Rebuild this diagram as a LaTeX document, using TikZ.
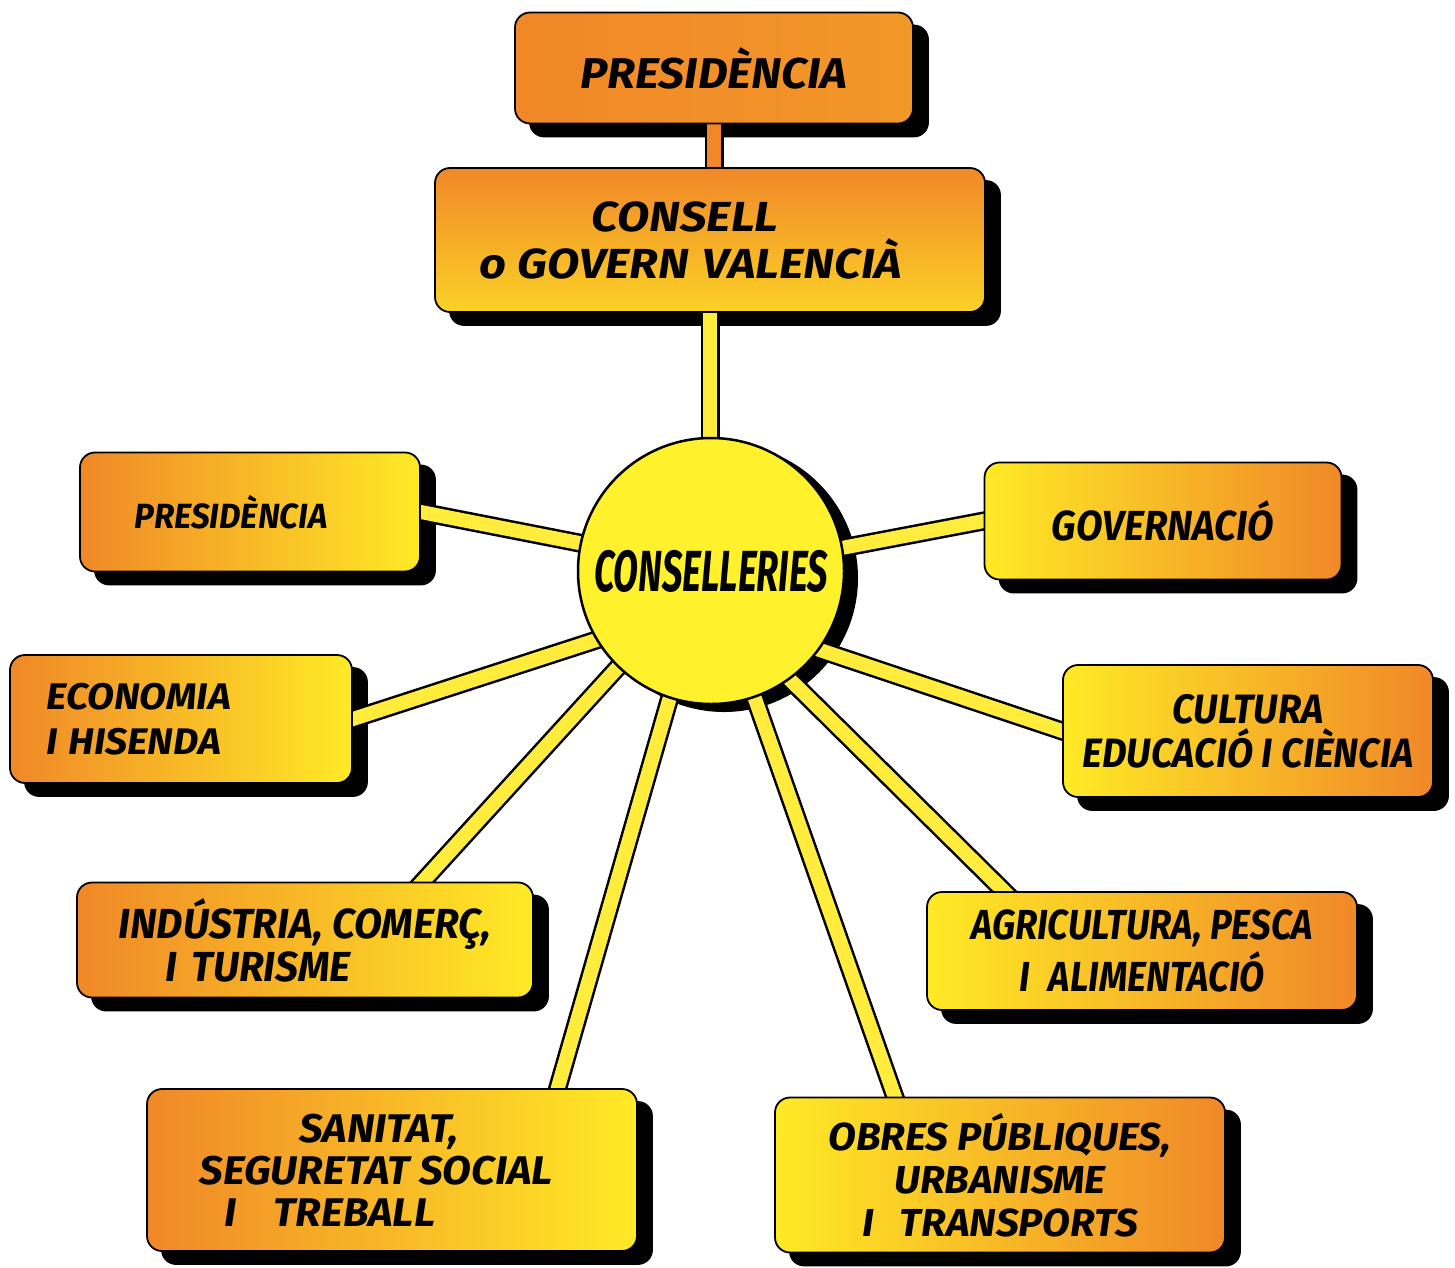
\documentclass[tikz,border=0pt]{standalone}
\usepackage{fontspec}
\newfontfamily\comic{Fira Sans}
\usetikzlibrary{calc}
\definecolor{org}{RGB}{240,136,40}
\definecolor{ylw}{RGB}{255,234,38}
\definecolor{lemon}{RGB}{255,242,45}
\definecolor{barY}{RGB}{255,236,60}
\pgfdeclarelayer{shadowlayer}
\pgfdeclarelayer{connlayer}
\pgfsetlayers{shadowlayer,connlayer,main}
\newcommand{\ctxt}[2]{\scalebox{#1}[1]{\vbox{\halign{\hfil##\hfil\cr#2\crcr}}}}
\newcommand{\ltxt}[2]{\scalebox{#1}[1]{\vbox{\halign{##\hfil\cr#2\crcr}}}}
\begin{document}
\begin{tikzpicture}[x=1pt,y=-1pt,
  box/.style={draw=black, line width=1.8pt, rounded corners=15pt, inner sep=0pt, text=black},
  fsz/.style 2 args={font=\comic\bfseries\itshape\fontsize{#1}{#2}\selectfont},
  oy/.style={left color=org, right color=ylw},
  yo/.style={left color=ylw, right color=org},
  shadowbox/.style={fill=black, rounded corners=15pt},
  conn/.style={draw=black, line width=2.5pt, double=barY, double distance=14pt,
               shorten <=-10pt, shorten >=-14pt},
]
\useasboundingbox (0,0) rectangle (1455,1267);

% boxes
\node[box, fsz={43}{48}, left color=org, right color=org!85!ylw, minimum width=398pt, minimum height=111pt]
  (pres) at (714,68) {\ctxt{1.07}{PRESIDÈNCIA}};
\node[box, fsz={42}{47}, top color=org, bottom color=ylw!75!org, minimum width=550pt, minimum height=144pt]
  (cons) at (710,240) {\raisebox{-6pt}{\ltxt{1.12}{\hspace*{100pt}CONSELL\cr o GOVERN\hspace{12pt}VALENCIÀ\hspace*{34pt}}}};
\node[box, fsz={35}{40}, oy, minimum width=340pt, minimum height=119pt]
  (presL) at (250,512) {\ltxt{0.95}{PRESIDÈNCIA\hspace*{40pt}}};
\node[box, fsz={42}{47}, yo, minimum width=357pt, minimum height=117pt]
  (gov) at (1163,521) {\ctxt{0.92}{GOVERNACIÓ}};
\node[box, fsz={37}{45}, oy, minimum width=342pt, minimum height=128pt]
  (eco) at (181,719) {\ltxt{1.06}{ECONOMIA\hspace*{80pt}\cr I\hspace{10pt}HISENDA}};
\node[box, fsz={41}{44}, yo, minimum width=370pt, minimum height=132pt]
  (cul) at (1248,731) {\ctxt{0.93}{CULTURA\cr EDUCACIÓ I CIÈNCIA}};
\node[box, fsz={42}{43}, oy, minimum width=456pt, minimum height=115pt]
  (ind) at (305,940) {\ltxt{0.97}{INDÚSTRIA, COMERÇ,\cr\hspace*{48pt}I\hspace{15pt}TURISME}};
\node[box, fsz={42}{52}, yo, minimum width=430pt, minimum height=118pt]
  (agr) at (1142,951) {\ctxt{0.87}{AGRICULTURA, PESCA\cr I\hspace{22pt}ALIMENTACIÓ}};
\node[box, fsz={40}{42}, oy, minimum width=490pt, minimum height=162pt]
  (san) at (392,1170) {\ltxt{1.05}{\hspace*{95pt}SANITAT,\cr SEGURETAT SOCIAL\hspace*{30pt}\cr\hspace*{24pt}I\hspace{35pt}TREBALL}};
\node[box, fsz={39}{43}, yo, minimum width=450pt, minimum height=155pt]
  (obr) at (1000,1175) {\ctxt{1.04}{OBRES PÚBLIQUES,\cr URBANISME\cr I\hspace{25pt}TRANSPORTS}};

% central circle
\node[circle, draw=black, line width=2.5pt, fill=lemon, minimum size=266pt, inner sep=0pt,
      fsz={58}{60}]
  (cc) at (711,571) {\scalebox{0.625}[1]{CONSELLERIES}};

% shadows
\begin{pgfonlayer}{shadowlayer}
  \foreach \n in {pres,cons,presL,gov,eco,cul,ind,agr,san,obr}
    \fill[shadowbox] ([shift={(15,13)}]\n.north west) rectangle ([shift={(15,13)}]\n.south east);
  \fill[black] ([shift={(13,7)}]cc.center) circle (134pt);
\end{pgfonlayer}

% connectors
\begin{pgfonlayer}{connlayer}
  \draw[conn, double=org] (pres.south) -- (pres.south |- cons.north);
  \draw[conn] (cons.south) -- (cons.south |- cc.north);
  \draw[conn] (cc.168) -- (presL.east);
  \draw[conn] (cc.10) -- (gov.west);
  \draw[conn] (cc.211) -- (eco.east);
  \draw[conn] (cc.-36) -- (cul.west);
  \draw[conn] (cc.226) -- ($(ind.north west)!0.757!(ind.north east)$);
  \draw[conn] (cc.-54) -- ($(agr.north west)!0.18!(agr.north east)$);
  \draw[conn] (cc.-108) -- ($(san.north west)!0.837!(san.north east)$);
  \draw[conn] (cc.-71) -- ($(obr.north west)!0.267!(obr.north east)$);
\end{pgfonlayer}
\end{tikzpicture}
\end{document}
